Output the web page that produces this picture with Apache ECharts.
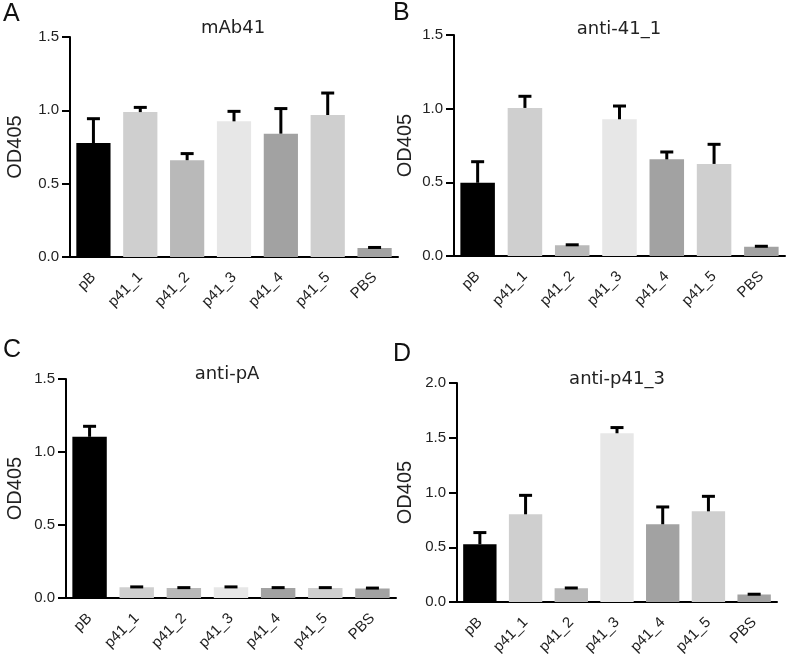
<!DOCTYPE html>
<html>
<head>
<meta charset="utf-8">
<script src="https://cdn.jsdelivr.net/npm/echarts@6/dist/echarts.min.js"></script>
<style>html,body{margin:0;padding:0;background:#fff}#c{width:789px;height:661px}</style>
</head>
<body>
<div id="c"></div>
<script>
var categories = ['pB', 'p41_1', 'p41_2', 'p41_3', 'p41_4', 'p41_5', 'PBS'];
var barColors = ['#000000', '#cfcfcf', '#b9b9b9', '#e7e7e7', '#a2a2a2', '#cfcfcf', '#a2a2a2'];

var titles = ['mAb41', 'anti-41_1', 'anti-pA', 'anti-p41_3'];
var panelLetters = ['A', 'B', 'C', 'D'];
var yMaxes = [1.5, 1.5, 1.5, 2.0];

var meanA = [0.777, 0.988, 0.660, 0.925, 0.841, 0.968, 0.062];
var errA  = [0.166, 0.032, 0.045, 0.068, 0.171, 0.150, 0.003];
var meanB = [0.497, 1.005, 0.073, 0.928, 0.656, 0.625, 0.063];
var errB  = [0.143, 0.079, 0.003, 0.090, 0.050, 0.133, 0.003];
var meanC = [1.104, 0.073, 0.068, 0.073, 0.068, 0.068, 0.065];
var errC  = [0.072, 0.003, 0.003, 0.003, 0.003, 0.003, 0.003];
var meanD = [0.527, 0.801, 0.125, 1.541, 0.710, 0.828, 0.068];
var errD  = [0.107, 0.173, 0.003, 0.052, 0.158, 0.137, 0.003];

var means = [meanA, meanB, meanC, meanD];
var errs = [errA, errB, errC, errD];

var FONT = 'Liberation Sans';
var TFONT = 'DejaVu Sans';
var TXT = '#222';

var grids = [
  {left: 70, top: 37, width: 328, height: 220},
  {left: 454, top: 35, width: 331, height: 221},
  {left: 66, top: 379, width: 330, height: 219},
  {left: 457, top: 383, width: 320, height: 219}
];
var nameGaps = [44.5, 39, 40.5, 41.5];
var titlePos = [[233, 28], [619, 29], [227, 374], [617, 379]];
var letterPos = [[3, 14], [393, 13], [3, 350], [393, 354]];

var chart = echarts.init(document.getElementById('c'), null, {renderer: 'canvas'});

var xAxes = [], yAxes = [], series = [], graphics = [];
for (var p = 0; p < 4; p++) {
  xAxes.push({
    type: 'category', gridIndex: p, data: categories,
    axisLine: {lineStyle: {color: '#000', width: 2}},
    axisTick: {alignWithLabel: true, length: 6, lineStyle: {color: '#000', width: 2}},
    axisLabel: {rotate: 45, interval: 0, fontFamily: FONT, fontSize: 15, color: TXT, margin: 18}
  });
  yAxes.push({
    type: 'value', gridIndex: p, min: 0, max: yMaxes[p], interval: 0.5,
    name: 'OD405', nameLocation: 'middle', nameGap: nameGaps[p],
    nameTextStyle: {fontFamily: FONT, fontSize: 20, color: TXT},
    axisLine: {show: true, lineStyle: {color: '#000', width: 2}},
    axisTick: {show: true, length: 8, lineStyle: {color: '#000', width: 2}},
    axisLabel: {fontFamily: FONT, fontSize: 15, color: TXT, margin: 11,
      formatter: function (v) { return v.toFixed(1); }},
    splitLine: {show: false}
  });
  series.push({
    type: 'bar', xAxisIndex: p, yAxisIndex: p,
    barCategoryGap: '27%',
    data: means[p].map(function (v, i) {
      return {value: v, itemStyle: {color: barColors[i]}};
    }),
    z: 2
  });
  series.push({
    type: 'custom', xAxisIndex: p, yAxisIndex: p, z: 5,
    data: means[p].map(function (v, i) { return [i, v, errs[p][i]]; }),
    renderItem: function (params, api) {
      var base = api.coord([api.value(0), api.value(1)]);
      var top = api.coord([api.value(0), api.value(1) + api.value(2)]);
      return {
        type: 'group',
        children: [
          {type: 'line', shape: {x1: base[0], y1: base[1], x2: base[0], y2: top[1]},
           style: {stroke: '#000', lineWidth: 3}},
          {type: 'line', shape: {x1: base[0] - 6.5, y1: top[1], x2: base[0] + 6.5, y2: top[1]},
           style: {stroke: '#000', lineWidth: 3}}
        ]
      };
    }
  });
  graphics.push({
    type: 'text', x: titlePos[p][0], y: titlePos[p][1],
    style: {text: titles[p], fontFamily: TFONT, fontSize: 18, fill: TXT, align: 'center', verticalAlign: 'middle'}
  });
  graphics.push({
    type: 'text', x: letterPos[p][0], y: letterPos[p][1],
    style: {text: panelLetters[p], fontFamily: FONT, fontSize: 25, fill: '#111', align: 'left', verticalAlign: 'middle'}
  });
}

chart.setOption({
  animation: false,
  backgroundColor: '#fff',
  grid: grids,
  xAxis: xAxes,
  yAxis: yAxes,
  series: series,
  graphic: graphics
});
</script>
</body>
</html>
